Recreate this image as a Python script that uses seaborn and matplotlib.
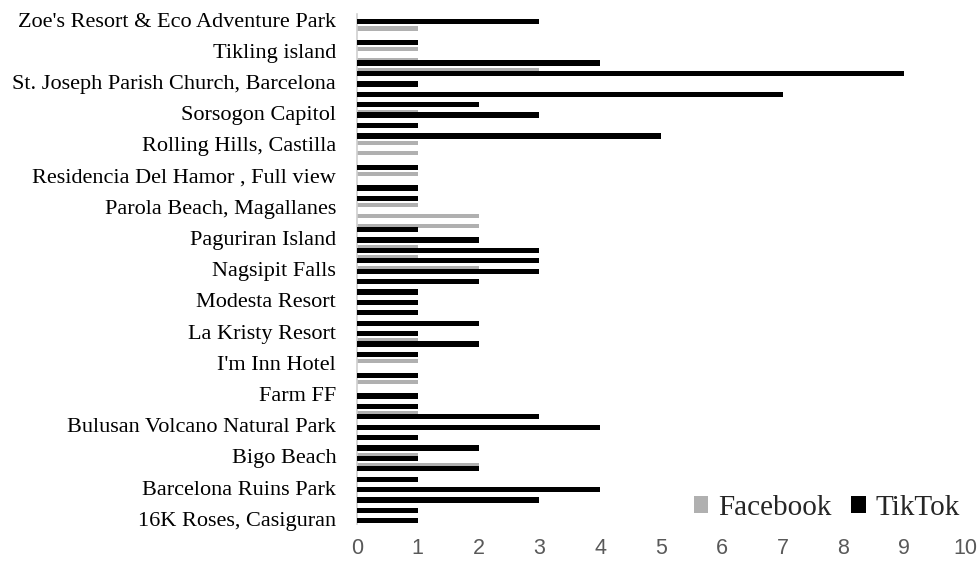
import numpy as np
import pandas as pd
import matplotlib
matplotlib.use("Agg")
import matplotlib.pyplot as plt
import seaborn as sns
from matplotlib.patches import Patch

# Categories from top to bottom (only every third one carries a visible label)
labels = [
    "Zoe's Resort & Eco Adventure Park", "", "",
    "Tikling island", "", "",
    "St. Joseph Parish Church, Barcelona", "", "",
    "Sorsogon Capitol", "", "",
    "Rolling Hills, Castilla", "", "",
    "Residencia Del Hamor , Full view", "", "",
    "Parola Beach, Magallanes", "", "",
    "Paguriran Island", "", "",
    "Nagsipit Falls", "", "",
    "Modesta Resort", "", "",
    "La Kristy Resort", "", "",
    "I'm Inn Hotel", "", "",
    "Farm FF", "", "",
    "Bulusan Volcano Natural Park", "", "",
    "Bigo Beach", "", "",
    "Barcelona Ruins Park", "", "",
    "16K Roses, Casiguran",
]
facebook = [0, 1, 0, 1, 1, 3, 0, 0, 0, 1, 0, 0, 1, 1, 0, 1, 0, 0, 1, 2,
            2, 0, 1, 1, 2, 0, 0, 0, 0, 0, 0, 1, 0, 1, 0, 1, 0, 0, 1, 0,
            0, 0, 1, 2, 0, 0, 0, 0, 0]
tiktok = [3, 0, 1, 0, 4, 9, 1, 7, 2, 3, 1, 5, 0, 0, 1, 0, 1, 1, 0, 0,
          1, 2, 3, 3, 3, 2, 1, 1, 1, 2, 1, 2, 1, 0, 1, 0, 1, 1, 3, 4,
          1, 2, 1, 2, 1, 4, 3, 1, 1]
series = ["Facebook", "TikTok"]
x_ticks = [0, 1, 2, 3, 4, 5, 6, 7, 8, 9, 10]

keys = [f"c{i:02d}" for i in range(len(labels))]
df = pd.DataFrame({
    "key": keys * 2,
    "value": facebook + tiktok,
    "platform": ["Facebook"] * len(keys) + ["TikTok"] * len(keys),
})

sns.set_style("white")
serif = ["Liberation Serif", "DejaVu Serif"]
sans = ["Liberation Sans", "DejaVu Sans"]

fig = plt.figure(figsize=(9.79, 5.62), dpi=100)
ax = fig.add_axes([357 / 979, 1 - 524 / 562, (965 - 357) / 979, (524 - 14.3) / 562])

colors = {"Facebook": "#B0B0B0", "TikTok": "#000000"}
sns.barplot(data=df, x="value", y="key", hue="platform", order=keys,
            hue_order=series, palette=colors, orient="h", width=0.8,
            linewidth=0, errorbar=None, legend=False, ax=ax)

# Bar placement within each category slot
for cont, (top, h, z) in zip(ax.containers, [(0.16, 0.40, 2), (0.44, 0.51, 3)]):
    for rect in cont:
        i = round(rect.get_y() + rect.get_height() / 2)
        rect.set_y(i - 0.5 + top)
        rect.set_height(h)
        rect.set_zorder(z)

ax.set_xlim(0, 10)
ax.set_ylim(len(keys) - 0.5, -0.5)
ax.set_xticks(x_ticks)
ax.set_xticklabels([str(t) for t in x_ticks], fontfamily=sans, fontsize=15.5, color="#595959")
ax.tick_params(axis="x", length=0, pad=10)

shown = [i for i, l in enumerate(labels) if l]
ax.set_yticks(shown)
ax.set_yticklabels([labels[i] for i in shown], fontfamily=serif, fontsize=16, color="black")
ax.tick_params(axis="y", which="major", length=0, pad=15)
ax.set_yticks(np.arange(len(keys) + 1) - 0.5, minor=True)
ax.tick_params(axis="y", which="minor", length=5, width=1, color="#D0D0D0", direction="out")
ax.set_xlabel("")
ax.set_ylabel("")

for s in ["top", "right", "bottom"]:
    ax.spines[s].set_visible(False)
ax.spines["left"].set_color("#D0D0D0")
ax.spines["left"].set_linewidth(1.2)
ax.grid(False)

handles = [Patch(facecolor=colors[s], edgecolor="none", label=s) for s in series]
fig.legend(handles=handles, loc="center right", bbox_to_anchor=(960 / 979, 1 - 508 / 562),
           ncol=2, frameon=False, prop={"family": serif, "size": 21},
           handlelength=0.5, handleheight=0.5, handletextpad=0.35,
           columnspacing=0.65, borderpad=0, borderaxespad=0)

fig.savefig("out.png", dpi=100)
